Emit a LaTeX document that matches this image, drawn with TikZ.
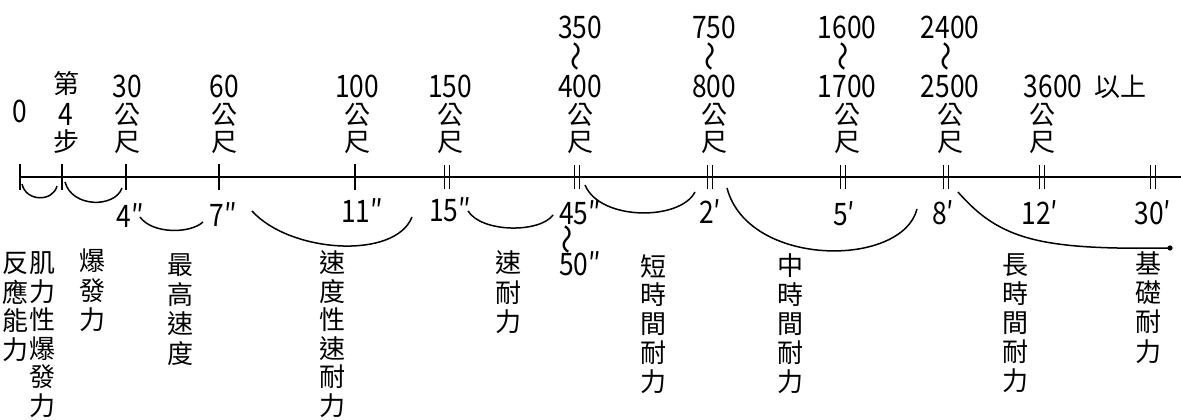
\documentclass[tikz,border=0pt]{standalone}
\usepackage{fontspec}
\setmainfont{Noto Sans CJK TC}
\newfontfamily\mynumfont[FakeStretch=0.85]{Noto Sans CJK TC}
\newcommand\mysingletick[1]{\draw[tk] ([yshift=13pt]#1) -- ([yshift=-13pt]#1);}
\newcommand\mydoubletick[1]{%
  \draw[tk] ([xshift=-2.4pt,yshift=12pt]#1) -- ([xshift=-2.4pt,yshift=-12pt]#1);
  \draw[tk] ([xshift=2.4pt,yshift=12pt]#1) -- ([xshift=2.4pt,yshift=-12pt]#1);}
\newcommand\myvcol[5]{\foreach \vc [count=\vi] in {#5} {\node[cjk] (#1-\vi) at (#2,{#3+#4*(\vi-1)}) {\vc};}}
\newcommand\mymcol[3]{%
  \node[num] (#1n) at (#2,86) {#3};
  \node[cjk] (#1g) at (#2,115) {公};
  \node[cjk] (#1c) at (#2,142) {尺};}
\newcommand\mytcol[4]{%
  \node[num] (#1a) at (#2,27) {#3};
  \node[tld] (#1t) at (#2,57) {～};
  \mymcol{#1}{#2}{#4}}
\begin{document}
\begin{tikzpicture}[x=1pt,y=-1pt,
  cjk/.style={inner sep=0pt, font=\fontsize{26}{26}\selectfont},
  num/.style={inner sep=0pt, font=\mynumfont\fontsize{31}{31}\selectfont},
  tld/.style={inner sep=0pt, rotate=90, font=\fontsize{30}{30}\selectfont},
  axis/.style={line width=1.6pt},
  tk/.style={line width=1.3pt},
  arcline/.style={line width=1.5pt},
]
\useasboundingbox[fill=white] (0,0) rectangle (1181,420);

% axis and ticks
\coordinate (t0) at (20,177);
\coordinate (t4) at (62,177);
\coordinate (t30) at (126,177);
\coordinate (t60) at (219,177);
\coordinate (t100) at (355,177);
\coordinate (t150) at (447,177);
\coordinate (t400) at (577,177);
\coordinate (t800) at (710,177);
\coordinate (t1700) at (843,177);
\coordinate (t2500) at (946,177);
\coordinate (t3600) at (1042,177);
\coordinate (t30m) at (1153,177);
\coordinate (lineend) at (1181,177);
\draw[axis] (t0) -- (lineend);
\mysingletick{t0}
\mysingletick{t4}
\mysingletick{t30}
\mysingletick{t60}
\mysingletick{t100}
\mydoubletick{t150}
\mydoubletick{t400}
\mydoubletick{t800}
\mydoubletick{t1700}
\mydoubletick{t2500}
\mydoubletick{t3600}
\mydoubletick{t30m}

% top labels
\node[num] (l0) at (20,111) {0};
\node[cjk] (s1) at (66,84) {第};
\node[num] (s2) at (66,114) {4};
\node[cjk] (s3) at (66,142) {步};
\mymcol{m30}{127}{30}
\mymcol{m60}{224}{60}
\mymcol{m100}{357}{100}
\mymcol{m150}{450}{150}
\mytcol{m400}{580}{350}{400}
\mytcol{m800}{714}{750}{800}
\mytcol{m1700}{847}{1600}{1700}
\mytcol{m2500}{950}{2400}{2500}
\node[num] (m3600n) at (1053,86) {3600};
\node[cjk] (m3600u) at (1120,87) {以上};
\node[cjk] (m3600g) at (1042,115) {公};
\node[cjk] (m3600c) at (1042,142) {尺};

% time labels
\node[num] (v4) at (130,216) {4″};
\node[num] (v7) at (223,215) {7″};
\node[num] (v11) at (362,211) {11″};
\node[num] (v15) at (450,210) {15″};
\node[num] (v45) at (580,213) {45″};
\node[tld] (v45t) at (571,239) {～};
\node[num] (v50) at (580,264) {50″};
\node[num] (v2) at (710,212) {2′};
\node[num] (v5) at (844,214) {5′};
\node[num] (v8) at (943,213) {8′};
\node[num] (v12) at (1040,213) {12′};
\node[num] (v30) at (1153,213) {30′};

% arcs
\coordinate (a1s) at (22,184);   \coordinate (a1e) at (57,186);
\coordinate (a2s) at (65,182);   \coordinate (a2e) at (122,188);
\coordinate (a3s) at (140,217);  \coordinate (a3e) at (203,222);
\coordinate (a4s) at (252,211);  \coordinate (a4e) at (412,217);
\coordinate (a5s) at (468,211);  \coordinate (a5e) at (553,215);
\coordinate (a6s) at (585,185);  \coordinate (a6e) at (695,192);
\coordinate (a7s) at (727,188);  \coordinate (a7e) at (917,209);
\coordinate (a8s) at (958,192);  \coordinate (a8e) at (1170,248);
\draw[arcline] (a1s) .. controls (26,202) and (53,202) .. (a1e);
\draw[arcline] (a2s) .. controls (72,208) and (115,208) .. (a2e);
\draw[arcline] (a3s) .. controls (152,234) and (190,234) .. (a3e);
\draw[arcline] (a4s) .. controls (290,253) and (395,260) .. (a4e);
\draw[arcline] (a5s) .. controls (482,233) and (540,233) .. (a5e);
\draw[arcline] (a6s) .. controls (600,221) and (680,221) .. (a6e);
\draw[arcline] (a7s) .. controls (748,268) and (902,268) .. (a7e);
\draw[arcline] (a8s) .. controls (1000,240) and (1040,250) .. (a8e);
\fill (a8e) circle (2.6pt);

% vertical labels
\myvcol{fy}{15}{263}{29}{反,應,能,力}
\myvcol{jl}{42}{263}{28.5}{肌,力,性,爆,發,力}
\myvcol{bf}{92}{261}{29.5}{爆,發,力}
\myvcol{zg}{180}{265}{29.5}{最,高,速,度}
\myvcol{sd}{332}{263}{28.5}{速,度,性,速,耐,力}
\myvcol{sn}{508}{263}{29.5}{速,耐,力}
\myvcol{dz}{653}{266}{29}{短,時,間,耐,力}
\myvcol{zz}{790}{266}{29}{中,時,間,耐,力}
\myvcol{cz}{1015}{265}{29}{長,時,間,耐,力}
\myvcol{jc}{1148}{263}{29.5}{基,礎,耐,力}
\end{tikzpicture}
\end{document}
